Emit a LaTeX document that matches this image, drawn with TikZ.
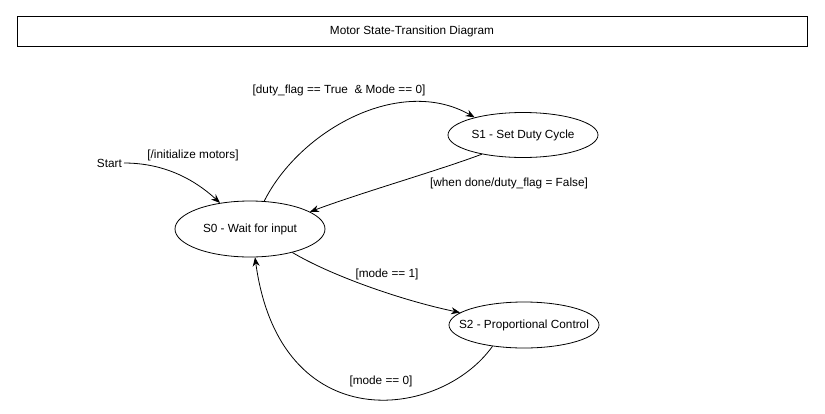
\documentclass[tikz,border=0pt]{standalone}
\usepackage{fontspec}
\setmainfont{Liberation Sans}
\usetikzlibrary{arrows.meta,shapes.geometric}
\begin{document}
\begin{tikzpicture}[x=1pt,y=-1pt,
  every node/.style={font=\fontsize{11.8}{13}\selectfont},
  state/.style={draw,ellipse,line width=0.8pt,minimum width=150pt,inner xsep=-24pt,inner ysep=0pt},
  trans/.style={draw,line width=0.8pt,-{Stealth[length=9pt,width=7pt]}},
  lbl/.style={inner sep=0pt}]
\useasboundingbox (0,0) rectangle (825,413);
\node[draw,line width=0.8pt,minimum width=790pt,minimum height=30pt,inner sep=0pt] (title) at (412,31) {Motor State-Transition Diagram};
\node[state,minimum height=56pt] (s0) at (250,229) {S0 - Wait for input};
\node[state,minimum height=45pt] (s1) at (523,135) {S1 - Set Duty Cycle};
\node[state,minimum height=46pt] (s2) at (524,325) {S2 - Proportional Control};
\node[lbl,anchor=east,inner xsep=2pt] (start) at (124,163) {Start};
\draw[trans] (start.east) .. controls (165,163) and (195,180) .. (s0.139);
\draw[trans] (s0.63) .. controls (300,130) and (400,75) .. (s1.160);
\draw[trans] (s1.205) .. controls (440,170) and (360,193) .. (s0.16);
\draw[trans] (s0.-29) .. controls (330,275) and (400,300) .. (s2.169);
\draw[trans] (s2.214) .. controls (440,420) and (280,440) .. (s0.-80);
\node[lbl] (l0) at (193,155) {[/initialize motors]};
\node[lbl] (l1) at (339,90) {[duty\_flag == True\ \ \& Mode == 0]};
\node[lbl] (l2) at (509,183) {[when done/duty\_flag = False]};
\node[lbl] (l3) at (387,274) {[mode == 1]};
\node[lbl] (l4) at (381,381) {[mode == 0]};
\end{tikzpicture}
\end{document}
